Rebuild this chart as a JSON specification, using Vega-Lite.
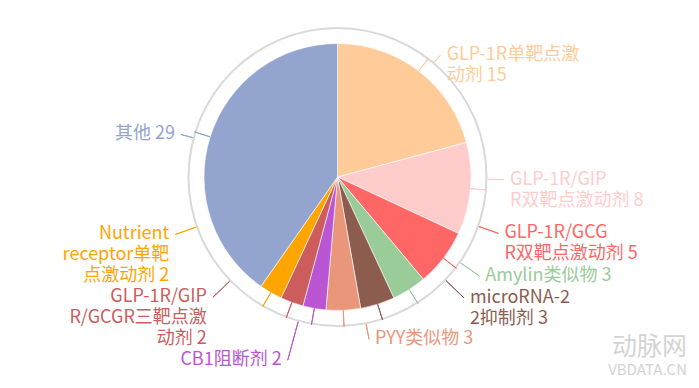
{
  "$schema": "https://vega.github.io/schema/vega-lite/v6.json",
  "width": 675,
  "height": 354,
  "autosize": "none",
  "padding": {"left": 0, "top": 0, "right": 24, "bottom": 34},
  "background": "white",
  "config": {"view": {"stroke": null}, "font": "Noto Sans CJK SC"},
  "title": {
    "text": "动脉网",
    "subtitle": "VBDATA.CN",
    "orient": "bottom",
    "anchor": "end",
    "frame": "group",
    "color": "#d4d4d4",
    "subtitleColor": "#d4d4d4",
    "fontSize": 25,
    "fontWeight": "normal",
    "subtitleFontSize": 15,
    "subtitlePadding": 3,
    "offset": 0,
    "dx": 12,
    "dy": -34
  },
  "data": {
    "values": [
      {"order": 1, "name": "GLP-1R单靶点激动剂", "label": "GLP-1R单靶点激\n动剂 15", "value": 15},
      {"order": 2, "name": "GLP-1R/GIPR双靶点激动剂", "label": "GLP-1R/GIP\nR双靶点激动剂 8", "value": 8},
      {"order": 3, "name": "GLP-1R/GCGR双靶点激动剂", "label": "GLP-1R/GCG\nR双靶点激动剂 5", "value": 5},
      {"order": 4, "name": "Amylin类似物", "label": "Amylin类似物 3", "value": 3},
      {"order": 5, "name": "microRNA-22抑制剂", "label": "microRNA-2\n2抑制剂 3", "value": 3},
      {"order": 6, "name": "PYY类似物", "label": "PYY类似物 3", "value": 3},
      {"order": 7, "name": "CB1阻断剂", "label": "CB1阻断剂 2", "value": 2},
      {"order": 8, "name": "GLP-1R/GIPR/GCGR三靶点激动剂", "label": "GLP-1R/GIP\nR/GCGR三靶点激\n动剂 2", "value": 2},
      {"order": 9, "name": "Nutrient receptor单靶点激动剂", "label": "Nutrient\nreceptor单靶\n点激动剂 2", "value": 2},
      {"order": 10, "name": "其他", "label": "其他 29", "value": 29}
    ]
  },
  "transform": [
    {"stack": "value", "groupby": [], "sort": [{"field": "order", "order": "ascending"}], "as": ["s0", "s1"]},
    {"fold": ["s0", "s1"], "as": ["edge", "pos"]},
    {"aggregate": [{"op": "mean", "field": "pos", "as": "mid"}], "groupby": ["order", "name", "label", "value"]}
  ],
  "layer": [
    {
      "transform": [{"aggregate": [{"op": "sum", "field": "value", "as": "total"}]}],
      "mark": {"type": "arc", "radius": 150, "radius2": 148, "fill": "#d9d9d9"},
      "encoding": {"theta": {"field": "total", "type": "quantitative"}}
    },
    {
      "mark": {"type": "arc", "outerRadius": 133.5, "stroke": "#ffffff", "strokeWidth": 0.6},
      "encoding": {
        "theta": {"field": "value", "type": "quantitative", "stack": true},
        "order": {"field": "order", "type": "quantitative", "sort": "ascending"},
        "color": {
          "field": "name", "type": "nominal", "legend": null,
          "scale": {
            "domain": ["GLP-1R单靶点激动剂", "GLP-1R/GIPR双靶点激动剂", "GLP-1R/GCGR双靶点激动剂", "Amylin类似物", "microRNA-22抑制剂", "PYY类似物", "CB1阻断剂", "GLP-1R/GIPR/GCGR三靶点激动剂", "Nutrient receptor单靶点激动剂", "其他"],
            "range": ["#ffcc99", "#ffcccc", "#ff6666", "#99cc99", "#8c5d4f", "#e9967a", "#ba55d3", "#cd5c5c", "#ffa500", "#93a5cf"]
          }
        }
      }
    },
    {
      "mark": {"type": "arc", "filled": false, "radius": 150, "radius2": 133.5, "strokeWidth": 1},
      "encoding": {
        "theta": {"field": "mid", "type": "quantitative", "stack": null, "scale": {"domain": [0, 72], "range": [0, 6.283185]}},
        "theta2": {"field": "mid"},
        "color": {
          "field": "name", "type": "nominal", "legend": null,
          "scale": {
            "domain": ["GLP-1R单靶点激动剂", "GLP-1R/GIPR双靶点激动剂", "GLP-1R/GCGR双靶点激动剂", "Amylin类似物", "microRNA-22抑制剂", "PYY类似物", "CB1阻断剂", "GLP-1R/GIPR/GCGR三靶点激动剂", "Nutrient receptor单靶点激动剂", "其他"],
            "range": ["#ffcc99", "#ffcccc", "#ff6666", "#99cc99", "#8c5d4f", "#e9967a", "#ba55d3", "#cd5c5c", "#ffa500", "#93a5cf"]
          }
        }
      }
    },
    {
      "mark": {"type": "arc", "filled": false, "strokeWidth": 1},
      "encoding": {
        "theta": {"field": "mid", "type": "quantitative", "stack": null, "scale": {"type": "linear", "zero": false, "domain": [7.5, 19, 25.5, 29.5, 32.5, 35.5, 38, 40, 42, 57.5], "range": [0.7016, 1.5865, 1.9077, 2.1799, 2.3335, 2.9496, 3.4069, 3.9444, 4.3720, 4.9777]}},
        "theta2": {"field": "mid"},
        "radius": {"field": "mid", "type": "quantitative", "scale": {"type": "linear", "zero": false, "domain": [7.5, 19, 32.5, 35.5, 38, 40, 57.5], "range": [159.8, 166.5, 174.8, 165.2, 189.9, 173.3, 162.2]}},
        "radius2": {"value": 150},
        "color": {
          "field": "name", "type": "nominal", "legend": null,
          "scale": {
            "domain": ["GLP-1R单靶点激动剂", "GLP-1R/GIPR双靶点激动剂", "GLP-1R/GCGR双靶点激动剂", "Amylin类似物", "microRNA-22抑制剂", "PYY类似物", "CB1阻断剂", "GLP-1R/GIPR/GCGR三靶点激动剂", "Nutrient receptor单靶点激动剂", "其他"],
            "range": ["#ffcc99", "#ffcccc", "#ff6666", "#99cc99", "#8c5d4f", "#e9967a", "#ba55d3", "#cd5c5c", "#ffa500", "#93a5cf"]
          }
        }
      }
    },
    {
      "transform": [{"filter": "datum.order <= 6"}],
      "mark": {"type": "text", "align": "left", "baseline": "middle", "lineBreak": "\n", "fontSize": 18, "lineHeight": 21, "dx": 6},
      "encoding": {
        "theta": {"field": "mid", "type": "quantitative", "stack": null, "scale": {"type": "linear", "zero": false, "domain": [7.5, 19, 25.5, 29.5, 32.5, 35.5, 38, 40, 42, 57.5], "range": [0.7016, 1.5865, 1.9077, 2.1799, 2.3335, 2.9496, 3.4069, 3.9444, 4.3720, 4.9777]}},
        "radius": {"field": "mid", "type": "quantitative", "scale": {"type": "linear", "zero": false, "domain": [7.5, 19, 32.5, 35.5, 38, 40, 57.5], "range": [159.8, 166.5, 174.8, 165.2, 189.9, 173.3, 162.2]}},
        "text": {"field": "label", "type": "nominal"},
        "color": {
          "field": "name", "type": "nominal", "legend": null,
          "scale": {
            "domain": ["GLP-1R单靶点激动剂", "GLP-1R/GIPR双靶点激动剂", "GLP-1R/GCGR双靶点激动剂", "Amylin类似物", "microRNA-22抑制剂", "PYY类似物", "CB1阻断剂", "GLP-1R/GIPR/GCGR三靶点激动剂", "Nutrient receptor单靶点激动剂", "其他"],
            "range": ["#ffcc99", "#ffcccc", "#ff6666", "#99cc99", "#8c5d4f", "#e9967a", "#ba55d3", "#cd5c5c", "#ffa500", "#93a5cf"]
          }
        }
      }
    },
    {
      "transform": [{"filter": "datum.order >= 7"}],
      "mark": {"type": "text", "align": "right", "baseline": "middle", "lineBreak": "\n", "fontSize": 18, "lineHeight": 21, "dx": -6},
      "encoding": {
        "theta": {"field": "mid", "type": "quantitative", "stack": null, "scale": {"type": "linear", "zero": false, "domain": [7.5, 19, 25.5, 29.5, 32.5, 35.5, 38, 40, 42, 57.5], "range": [0.7016, 1.5865, 1.9077, 2.1799, 2.3335, 2.9496, 3.4069, 3.9444, 4.3720, 4.9777]}},
        "radius": {"field": "mid", "type": "quantitative", "scale": {"type": "linear", "zero": false, "domain": [7.5, 19, 32.5, 35.5, 38, 40, 57.5], "range": [159.8, 166.5, 174.8, 165.2, 189.9, 173.3, 162.2]}},
        "text": {"field": "label", "type": "nominal"},
        "color": {
          "field": "name", "type": "nominal", "legend": null,
          "scale": {
            "domain": ["GLP-1R单靶点激动剂", "GLP-1R/GIPR双靶点激动剂", "GLP-1R/GCGR双靶点激动剂", "Amylin类似物", "microRNA-22抑制剂", "PYY类似物", "CB1阻断剂", "GLP-1R/GIPR/GCGR三靶点激动剂", "Nutrient receptor单靶点激动剂", "其他"],
            "range": ["#ffcc99", "#ffcccc", "#ff6666", "#99cc99", "#8c5d4f", "#e9967a", "#ba55d3", "#cd5c5c", "#ffa500", "#93a5cf"]
          }
        }
      }
    }
  ],
  "resolve": {"scale": {"theta": "independent", "radius": "independent", "color": "independent"}}
}
